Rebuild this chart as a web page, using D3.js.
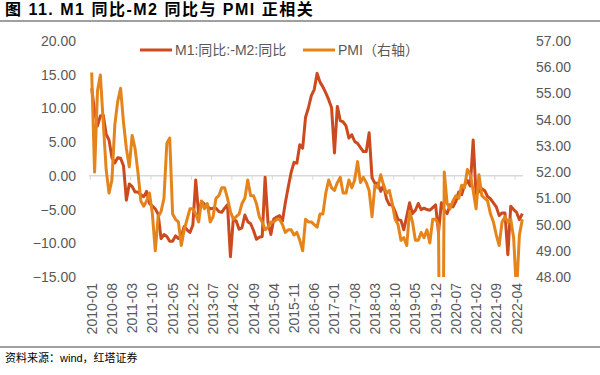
<!DOCTYPE html>
<html>
<head>
<meta charset="utf-8">
<script src="https://cdn.jsdelivr.net/npm/d3@7"></script>
<style>
  body { margin: 0; background: #fff; }
  svg { display: block; font-family: "Liberation Sans", Arial, "Noto Sans CJK SC", sans-serif; }
  .tick-label { fill: #595959; font-size: 14px; }
</style>
</head>
<body>
<svg id="chart" width="600" height="375"></svg>
<script>
// 월별 카테고리 2010-01 ~ 2022-06
var months = d3.timeMonth.range(new Date(2010, 0, 1), new Date(2022, 6, 1)).map(d3.timeFormat("%Y-%m"));

// M1 同比 - M2 同比 (%)
var m1m2 = [
  13.0, 9.5, 7.4, 8.9, 9.0, 6.2, 5.3, 2.7, 1.9, 2.7, 2.6, 1.5,        // 2010
  -3.6, -1.2, -1.6, -2.4, -2.4, -2.8, -3.1, -2.3, -4.1, -4.5, -4.9, -5.7, // 2011
  -9.3, -8.7, -9.0, -9.7, -9.7, -8.9, -9.3, -9.0, -7.5, -8.0, -8.4, -7.3, // 2012
  -0.6, -5.7, -3.8, -4.2, -4.5, -4.9, -4.8, -4.8, -5.3, -5.4, -4.8, -4.3, // 2013
  -12.0, -6.4, -6.7, -7.9, -7.7, -5.8, -6.8, -7.1, -8.1, -9.4, -9.1, -9.0, // 2014
  -0.2, -6.9, -8.7, -6.4, -6.1, -5.9, -6.7, -4.0, -1.7, 0.5, 2.0, 1.9,   // 2015
  4.6, 4.1, 8.7, 10.1, 11.9, 12.8, 15.2, 13.9, 13.2, 12.3, 11.3, 10.1,   // 2016
  3.4, 10.3, 8.2, 8.0, 7.4, 5.6, 6.1, 5.1, 4.8, 4.2, 3.6, 3.6,          // 2017
  6.4, -0.3, -1.1, -1.1, -2.3, -1.4, -3.4, -4.3, -4.3, -5.3, -6.5, -6.6, // 2018
  -8.0, -6.0, -4.0, -5.6, -5.1, -4.1, -5.0, -4.8, -5.0, -5.1, -4.7, -4.3, // 2019
  -8.4, -4.0, -5.1, -5.6, -4.3, -4.6, -3.8, -2.4, -2.8, -1.4, -0.7, -1.5, // 2020
  5.3, -2.7, -2.3, -1.9, -2.2, -3.1, -3.4, -4.0, -4.6, -5.9, -5.5, -5.5, // 2021
  -11.7, -4.5, -5.0, -5.4, -6.5, -5.6                                   // 2022
];

// 제조업 PMI (오른쪽 축)
var pmi = [
  55.8, 52.0, 55.1, 55.7, 53.9, 52.1, 51.2, 51.7, 53.8, 54.7, 55.2, 53.9, // 2010
  52.9, 52.2, 53.4, 52.9, 52.0, 50.9, 50.7, 50.9, 51.2, 50.4, 49.0, 50.3, // 2011
  50.5, 51.0, 53.1, 53.3, 50.4, 50.2, 50.1, 49.2, 49.8, 50.2, 50.6, 50.6, // 2012
  50.4, 50.1, 50.9, 50.6, 50.8, 50.1, 50.3, 51.0, 51.1, 51.4, 51.4, 51.0, // 2013
  50.5, 50.2, 50.3, 50.4, 50.8, 51.0, 51.7, 51.1, 51.1, 50.8, 50.3, 50.1, // 2014
  49.8, 49.9, 50.1, 50.1, 50.2, 50.2, 50.0, 49.7, 49.8, 49.8, 49.6, 49.7, // 2015
  49.4, 49.0, 50.2, 50.1, 50.1, 50.0, 49.9, 50.4, 50.4, 51.2, 51.7, 51.4, // 2016
  51.3, 51.6, 51.8, 51.2, 51.2, 51.7, 51.4, 51.7, 52.4, 51.6, 51.8, 51.6, // 2017
  51.3, 50.3, 51.5, 51.4, 51.9, 51.5, 51.2, 51.3, 50.8, 50.2, 50.0, 49.4, // 2018
  49.5, 49.2, 50.5, 50.1, 49.4, 49.4, 49.7, 49.5, 49.8, 49.3, 50.2, 50.2, // 2019
  50.0, 35.7, 52.0, 50.8, 50.6, 50.9, 51.1, 51.0, 51.5, 51.4, 52.1, 51.9, // 2020
  51.3, 50.6, 51.9, 51.1, 51.0, 50.9, 50.4, 50.1, 49.6, 49.2, 50.1, 50.3, // 2021
  50.1, 50.2, 49.5, 47.4, 49.6, 50.2                                      // 2022
];

var leftTicks = [20, 15, 10, 5, 0, -5, -10, -15];
var rightTicks = [57, 56, 55, 54, 53, 52, 51, 50, 49, 48];

var titleText = "图 11. M1 同比-M2 同比与 PMI 正相关";
var sourceText = "资料来源：wind，红塔证券";
var seriesNames = ["M1:同比:-M2:同比", "PMI（右轴）"];

var redColor = "#CC4A1F";
var orangeColor = "#E5841A";

var svg = d3.select("#chart");
var plotTop = 41, plotBottom = 277;

var x = d3.scalePoint().domain(months).range([91.7, 522.3]);
var yL = d3.scaleLinear().domain([-15, 20]).range([plotBottom, plotTop]);
var yR = d3.scaleLinear().domain([48, 57]).range([plotBottom, plotTop]);

// 제목
svg.append("text")
  .attr("x", 5).attr("y", 15)
  .attr("font-size", 16).attr("font-weight", "bold")
  .attr("letter-spacing", 1.5)
  .attr("fill", "#000")
  .text(titleText);

svg.append("line")
  .attr("x1", 0).attr("x2", 600).attr("y1", 21).attr("y2", 21)
  .attr("stroke", "#7f7f7f").attr("stroke-width", 1.5);

// 왼쪽 축
var leftAxis = svg.append("g")
  .attr("transform", "translate(76,0)")
  .call(d3.axisLeft(yL).tickValues(leftTicks).tickSize(0).tickPadding(0).tickFormat(d3.format(".2f")));
leftAxis.select(".domain").remove();
leftAxis.selectAll("text").attr("class", "tick-label").attr("font-family", null).attr("font-size", null);

// 오른쪽 축
var rightAxis = svg.append("g")
  .attr("transform", "translate(536,0)")
  .call(d3.axisRight(yR).tickValues(rightTicks).tickSize(0).tickPadding(0).tickFormat(d3.format(".2f")));
rightAxis.select(".domain").remove();
rightAxis.selectAll("text").attr("class", "tick-label").attr("font-family", null).attr("font-size", null);
svg.selectAll(".tick text").attr("fill", "#595959");

// 0 선과 눈금
var zeroY = yL(0);
var labelMonths = months.filter(function(d, i){ return i % 7 === 0; });
var step = x.step();

svg.append("line")
  .attr("x1", 89).attr("x2", 523)
  .attr("y1", zeroY).attr("y2", zeroY)
  .attr("stroke", "#D9D9D9").attr("stroke-width", 1.5);

svg.append("g").selectAll("line")
  .data(labelMonths)
  .enter()
  .append("line")
  .attr("x1", function(d){ return x(d) - step / 2; })
  .attr("x2", function(d){ return x(d) - step / 2; })
  .attr("y1", zeroY).attr("y2", zeroY + 4)
  .attr("stroke", "#D9D9D9").attr("stroke-width", 1);

// x 라벨 (세로)
svg.append("g").selectAll("text")
  .data(labelMonths)
  .enter()
  .append("text")
  .attr("class", "tick-label")
  .attr("text-anchor", "end")
  .attr("transform", function(d){ return "translate(" + (x(d) + 5) + "," + 283 + ") rotate(-90)"; })
  .text(function(d){ return d; });

// 클립
svg.append("clipPath").attr("id", "plotClip")
  .append("rect")
  .attr("x", 80).attr("y", plotTop - 2).attr("width", 455).attr("height", plotBottom - plotTop + 2);

var plot = svg.append("g").attr("clip-path", "url(#plotClip)");

var redLine = d3.line()
  .x(function(d, i){ return x(months[i]); })
  .y(function(d){ return yL(d); });

var orangeLine = d3.line()
  .x(function(d, i){ return x(months[i]); })
  .y(function(d){ return yR(d); });

plot.append("path")
  .datum(m1m2)
  .attr("d", redLine)
  .attr("fill", "none")
  .attr("stroke", redColor)
  .attr("stroke-width", 3)
  .attr("stroke-linejoin", "round");

plot.append("path")
  .datum(pmi)
  .attr("d", orangeLine)
  .attr("fill", "none")
  .attr("stroke", orangeColor)
  .attr("stroke-width", 3)
  .attr("stroke-linejoin", "round");

// 범례
var legend = [
  { name: seriesNames[0], color: redColor, x: 140 },
  { name: seriesNames[1], color: orangeColor, x: 303 }
];
var lg = svg.append("g").selectAll("g")
  .data(legend)
  .enter()
  .append("g")
  .attr("transform", function(d){ return "translate(" + d.x + ",50)"; });
lg.append("line")
  .attr("x1", 0).attr("x2", 32)
  .attr("stroke", function(d){ return d.color; })
  .attr("stroke-width", 3);
lg.append("text")
  .attr("x", 35).attr("y", 5)
  .attr("class", "tick-label")
  .text(function(d){ return d.name; });

// 출처
svg.append("line")
  .attr("x1", 0).attr("x2", 600).attr("y1", 347).attr("y2", 347)
  .attr("stroke", "#7f7f7f").attr("stroke-width", 1.5);

svg.append("text")
  .attr("x", 5).attr("y", 362)
  .attr("font-size", 11)
  .attr("fill", "#000")
  .text(sourceText);
</script>
</body>
</html>
